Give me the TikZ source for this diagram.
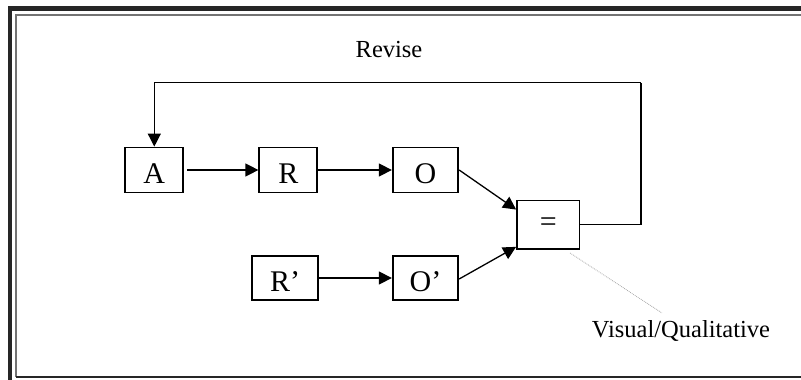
\documentclass[tikz,border=0pt]{standalone}
\usepackage{fontspec}
\setmainfont{Liberation Serif}
\usetikzlibrary{arrows.meta,calc}
\begin{document}
\begin{tikzpicture}[x=1pt,y=-1pt,
  stage/.style={draw,line width=1.8pt,inner sep=0pt,font=\fontsize{30}{32}\selectfont,
    text height=27pt,text depth=0pt},
  flow/.style={line width=1.3pt,-{Triangle[length=13pt,width=13pt]}},
  loopline/.style={line width=1.3pt},
  lbl/.style={font=\fontsize{24.5}{27}\selectfont}]
\useasboundingbox (0,0) rectangle (801,380);
% page frame
\draw[line width=4.5pt,black!85] (10,380) -- (10,8.5) -- (801,8.5);
\draw[line width=1.2pt,black!55] (16,377) -- (16,15) -- (801,15);
\draw[line width=1.8pt,black!85] (16,377) -- (801,377);
% stages
\node[stage,minimum width=58pt,minimum height=45pt] (A) at (154.3,170) {A};
\node[stage,minimum width=58pt,minimum height=45pt] (R) at (288.3,170) {R};
\node[stage,minimum width=65.5pt,minimum height=45pt] (O) at (425.5,170) {O};
\node[stage,minimum width=66pt,minimum height=44pt] (Rp) at (285,278) {R’};
\node[stage,minimum width=65.5pt,minimum height=44pt] (Op) at (425.5,278) {O’};
\node[stage,minimum width=62.5pt,minimum height=48.5pt,text height=,text depth=] (E) at (548.3,224.7) {=};
% forward arrows
\draw[flow] ([xshift=3pt]A.east) -- (R.west);
\draw[flow] (R.east) -- (O.west);
\draw[flow] (Rp.east) -- (Op.west);
\draw[flow] (O.east) -- ([yshift=-10pt]E.north west);
\draw[flow] ([yshift=-1pt]Op.east) -- ([yshift=3pt]E.south west);
% revise loop
\coordinate (turn) at (641,82.7);
\draw[loopline] (E.east) -| (turn);
\draw[flow] (turn) -| (A.north);
\node[lbl] (rev) at (389,50) {Revise};
% comparison note
\node[lbl] (vq) at (681,331) {Visual/Qualitative};
\coordinate (noteA) at (570,253);
\coordinate (noteB) at (662,313);
\draw[black!35,line width=0.8pt,densely dotted] (noteA) -- (noteB);
\end{tikzpicture}
\end{document}
